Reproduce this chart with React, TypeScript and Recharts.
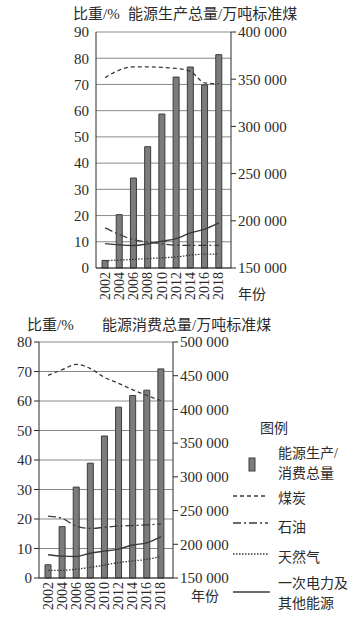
import { ComposedChart, Bar, Line, XAxis, YAxis, CartesianGrid } from 'recharts';

const years = ['2002', '2004', '2006', '2008', '2010', '2012', '2014', '2016', '2018'];

// 能源生产
const productionTotal = [158000, 206500, 245300, 278500, 313100, 352300, 362900, 344000, 376000];
const prodCoal = [72.6, 75.5, 76.7, 76.7, 76.5, 76.1, 75.0, 70.6, 70.2];
const prodOil = [15.3, 12.8, 10.8, 9.9, 9.2, 8.7, 8.6, 8.6, 8.6];
const prodGas = [2.8, 3.0, 3.3, 3.6, 3.9, 4.2, 4.9, 5.3, 5.3];
const prodElec = [9.3, 8.8, 8.6, 9.2, 10.2, 11.2, 13.4, 14.8, 17.2];

// 能源消费
const consumptionTotal = [169600, 226200, 284800, 320300, 360600, 403400, 420700, 428500, 460100];
const consCoal = [68.7, 70.6, 72.4, 71.0, 68.0, 66.0, 63.8, 61.9, 60.1];
const consOil = [21.0, 20.2, 17.6, 16.8, 17.2, 17.6, 17.8, 18.0, 18.3];
const consGas = [2.6, 2.6, 3.0, 3.6, 4.4, 5.2, 5.8, 6.3, 7.3];
const consElec = [7.9, 7.4, 7.3, 8.4, 9.1, 9.8, 11.2, 11.9, 14.0];

const prodTicksLeft = [0, 10, 20, 30, 40, 50, 60, 70, 80, 90];
const prodTicksRight = [150000, 200000, 250000, 300000, 350000, 400000];
const consTicksLeft = [0, 10, 20, 30, 40, 50, 60, 70, 80];
const consTicksRight = [150000, 200000, 250000, 300000, 350000, 400000, 450000, 500000];

const productionData = years.map((year, i) => ({
  year,
  total: productionTotal[i],
  coal: prodCoal[i],
  oil: prodOil[i],
  gas: prodGas[i],
  elec: prodElec[i],
}));

const consumptionData = years.map((year, i) => ({
  year,
  total: consumptionTotal[i],
  coal: consCoal[i],
  oil: consOil[i],
  gas: consGas[i],
  elec: consElec[i],
}));

const SERIF = '"Liberation Serif", "DejaVu Serif", serif';
// latin glyphs in serif, Chinese falls back to Noto CJK
const MIXED = '"Liberation Serif", "Noto Sans CJK SC", serif';
const INK = '#2b2b2b';
const LINE = '#3a3a3a';

const DASH = {
  coal: '4 3',
  oil: '8 3 2 3',
  gas: '1.5 1.5',
};

const fmtBig = (v: number) => `${Math.floor(v / 1000)} 000`;

const YearTick = ({ x, y, payload }: any) => (
  <text
    x={x}
    y={y}
    transform={`rotate(-90 ${x} ${y})`}
    textAnchor="end"
    dominantBaseline="central"
    fontSize={14}
    fontFamily={SERIF}
    fill={INK}
  >
    {payload.value}
  </text>
);

function EnergyChart({ data, ticksLeft, ticksRight, leftMax, rightMax, leftW, rightW, mLeft, mRight, leftTickSize }: any) {
  return (
    <ComposedChart
      width={363}
      height={310}
      data={data}
      margin={{ top: 32, right: mRight, bottom: 2, left: mLeft }}
    >
      <CartesianGrid yAxisId="left" horizontal vertical={false} stroke="#8a8a8a" strokeWidth={1} />
      <XAxis
        dataKey="year"
        height={40}
        tick={<YearTick />}
        tickLine={false}
        tickSize={0}
        tickMargin={4}
        interval={0}
        padding={{ left: 2, right: 5 }}
        stroke={INK}
      />
      <YAxis
        yAxisId="left"
        orientation="left"
        width={leftW}
        domain={[0, leftMax]}
        ticks={ticksLeft}
        interval={0}
        tickSize={leftTickSize}
        tickMargin={leftTickSize ? 2 : 7}
        tickLine={leftTickSize > 0}
        stroke={INK}
        tick={{ fontSize: 15, fontFamily: SERIF, fill: INK }}
      />
      <YAxis
        yAxisId="right"
        orientation="right"
        width={rightW}
        domain={[150000, rightMax]}
        ticks={ticksRight}
        interval={0}
        tickSize={5}
        tickMargin={2}
        stroke={INK}
        tickFormatter={fmtBig}
        tick={{ fontSize: 15, fontFamily: SERIF, fill: INK, textAnchor: 'start' }}
      />
      <Line yAxisId="left" type="monotone" dataKey="coal" stroke={LINE} strokeWidth={1.3} strokeDasharray={DASH.coal} dot={false} isAnimationActive={false} />
      <Line yAxisId="left" type="monotone" dataKey="oil" stroke={LINE} strokeWidth={1.3} strokeDasharray={DASH.oil} dot={false} isAnimationActive={false} />
      <Line yAxisId="left" type="monotone" dataKey="gas" stroke={LINE} strokeWidth={1.3} strokeDasharray={DASH.gas} dot={false} isAnimationActive={false} />
      <Line yAxisId="left" type="monotone" dataKey="elec" stroke={LINE} strokeWidth={1.4} dot={false} isAnimationActive={false} />
      <Bar yAxisId="right" dataKey="total" barSize={6} fill="#7c7c7c" stroke="#3c3c3c" strokeWidth={1} isAnimationActive={false} />
    </ComposedChart>
  );
}

const txt = (s: string, left: number, cy: number, size = 14) => (
  <div
    style={{
      position: 'absolute',
      left,
      top: cy - size / 2,
      fontSize: size,
      lineHeight: `${size}px`,
      fontFamily: MIXED,
      color: INK,
      whiteSpace: 'nowrap',
    }}
  >
    {s}
  </div>
);

export default function App() {
  return (
    <div style={{ position: 'absolute', left: 0, top: 0, width: 363, height: 622, background: '#fff', overflow: 'hidden' }}>
      {/* 上图：能源生产 */}
      <div style={{ position: 'absolute', left: 0, top: 0 }}>
        <EnergyChart
          data={productionData}
          ticksLeft={prodTicksLeft}
          ticksRight={prodTicksRight}
          leftMax={90}
          rightMax={400000}
          leftW={40}
          rightW={80}
          mLeft={56}
          mRight={52}
          leftTickSize={0}
        />
      </div>
      {txt('比重/%', 73, 14, 15)}
      {txt('能源生产总量/万吨标准煤', 128, 14, 15)}
      {txt('年份', 238, 295)}

      {/* 下图：能源消费 */}
      <div style={{ position: 'absolute', left: 0, top: 310 }}>
        <EnergyChart
          data={consumptionData}
          ticksLeft={consTicksLeft}
          ticksRight={consTicksRight}
          leftMax={80}
          rightMax={500000}
          leftW={30}
          rightW={80}
          mLeft={9}
          mRight={110}
          leftTickSize={5}
        />
      </div>
      {txt('比重/%', 27, 325, 15)}
      {txt('能源消费总量/万吨标准煤', 102, 325, 15)}
      {txt('年份', 191, 597)}

      {/* 图例 */}
      <svg style={{ position: 'absolute', left: 0, top: 0 }} width={363} height={622}>
        <rect x={249} y={458} width={6} height={13} fill="#7c7c7c" stroke="#3c3c3c" strokeWidth={1} />
        <line x1={233} y1={496} x2={268} y2={496} stroke={LINE} strokeWidth={1.3} strokeDasharray={DASH.coal} />
        <line x1={233} y1={523} x2={268} y2={523} stroke={LINE} strokeWidth={1.3} strokeDasharray={DASH.oil} />
        <line x1={233} y1={554} x2={268} y2={554} stroke={LINE} strokeWidth={1.3} strokeDasharray={DASH.gas} />
        <line x1={233} y1={592} x2={270} y2={592} stroke={LINE} strokeWidth={1.6} />
      </svg>
      {txt('图例', 260, 429)}
      {txt('能源生产/', 278, 454)}
      {txt('消费总量', 278, 474)}
      {txt('煤炭', 278, 499)}
      {txt('石油', 278, 528)}
      {txt('天然气', 278, 558)}
      {txt('一次电力及', 278, 584)}
      {txt('其他能源', 278, 604)}
    </div>
  );
}
